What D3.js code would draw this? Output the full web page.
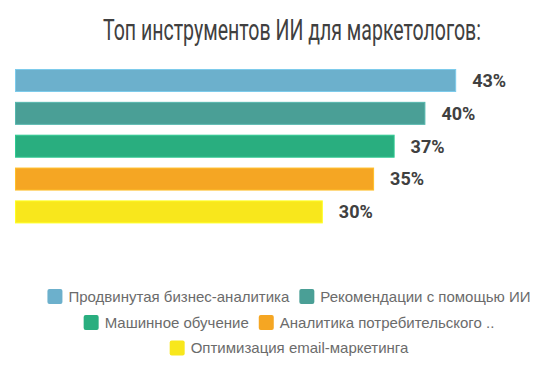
<!DOCTYPE html>
<html>
<head>
<meta charset="utf-8">
<script src="https://cdn.jsdelivr.net/npm/d3@7"></script>
<style>
  html, body { margin: 0; padding: 0; background: #fff; }
  svg { display: block; }
</style>
</head>
<body>
<svg id="chart" width="542" height="367"></svg>
<script>
const TITLE = "Топ инструментов ИИ для маркетологов:";
const categories = [
  "Продвинутая бизнес-аналитика",
  "Рекомендации с помощью ИИ",
  "Машинное обучение",
  "Аналитика потребительского ..",
  "Оптимизация email-маркетинга"
];
const values = [43, 40, 37, 35, 30];
const colors = ["#6cb0cc", "#4a9f96", "#29ae7f", "#f5a623", "#f8e71c"];

const svg = d3.select("#chart");

svg.append("text")
  .attr("x", 292)
  .attr("y", 39.5)
  .attr("text-anchor", "middle")
  .attr("font-family", "Roboto, 'Noto Sans', sans-serif")
  .attr("font-size", 29)
  .attr("fill", "#404040")
  .attr("textLength", 378)
  .attr("lengthAdjust", "spacingAndGlyphs")
  .text(TITLE);

const x = d3.scaleLinear().domain([0, 50]).range([15, 528]);
const y = d3.scaleBand().domain(categories).range([69, 223.4]).paddingInner(0.3).paddingOuter(0);

const rows = categories.map((name, i) => ({ name, value: values[i], color: colors[i] }));

svg.selectAll("rect.bar").data(rows).enter().append("rect")
  .attr("class", "bar")
  .attr("x", x(0) + 0.5)
  .attr("y", (d) => y(d.name) + 0.5)
  .attr("width", (d) => x(d.value) - x(0) - 1)
  .attr("height", y.bandwidth() - 1)
  .attr("fill", (d) => d.color)
  .attr("stroke", (d) => d3.color(d.color).brighter(0.4))
  .attr("stroke-width", 1);

svg.selectAll("text.val").data(rows).enter().append("text")
  .attr("class", "val")
  .attr("x", (d) => x(d.value) + 16)
  .attr("y", (d) => y(d.name) + y.bandwidth() / 2)
  .attr("dy", "0.36em")
  .attr("font-family", "Roboto, sans-serif")
  .attr("font-weight", "bold")
  .attr("font-size", 17.5)
  .attr("textLength", 34)
  .attr("lengthAdjust", "spacingAndGlyphs")
  .attr("fill", "#404040")
  .text((d) => `${d.value}%`);

// legend, wrapped into centred rows
const legend = svg.append("g");
const box = 15;
const gap = 6;
const itemPad = 10;
const maxRow = 500;
const centerX = 289;
const rowY = [296.5, 322.5, 348];

const items = rows.map((d) => {
  const g = legend.append("g");
  g.append("rect").attr("width", box).attr("height", box).attr("rx", 2)
    .attr("fill", d.color).attr("y", -box / 2);
  const t = g.append("text")
    .attr("x", box + gap)
    .attr("dy", "0.35em")
    .attr("font-family", "'Liberation Sans', Arial, sans-serif")
    .attr("font-size", 15)
    .attr("fill", "#6b6b6b")
    .text(d.name);
  return { g, w: box + gap + t.node().getComputedTextLength() };
});

const lines = [];
let cur = [];
let curW = 0;
items.forEach((it) => {
  const add = cur.length ? itemPad + it.w : it.w;
  if (cur.length && curW + add > maxRow) {
    lines.push({ items: cur, w: curW });
    cur = [it];
    curW = it.w;
  } else {
    cur.push(it);
    curW += add;
  }
});
if (cur.length) lines.push({ items: cur, w: curW });

lines.forEach((line, i) => {
  let xx = centerX - line.w / 2;
  line.items.forEach((it) => {
    it.g.attr("transform", `translate(${xx},${rowY[i]})`);
    xx += it.w + itemPad;
  });
});
</script>
</body>
</html>
